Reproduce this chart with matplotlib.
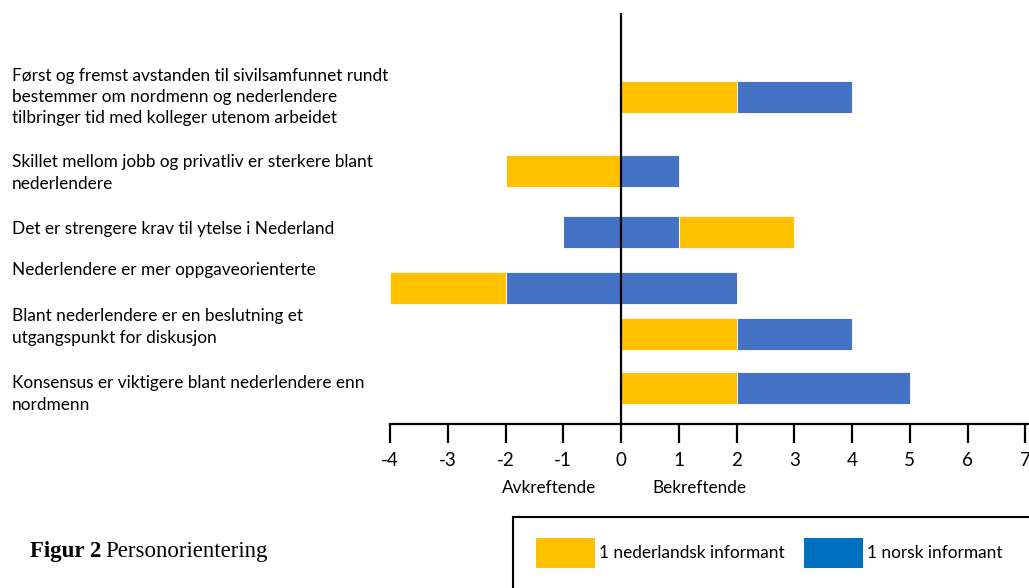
import matplotlib
matplotlib.use('Agg')
import matplotlib.pyplot as plt
from matplotlib.patches import Rectangle

# statements, top to bottom
categories = [
    "Først og fremst avstanden til sivilsamfunnet rundt\nbestemmer om nordmenn og nederlendere\ntilbringer tid med kolleger utenom arbeidet",
    "Skillet mellom jobb og privatliv er sterkere blant\nnederlendere",
    "Det er strengere krav til ytelse i Nederland",
    "Nederlendere er mer oppgaveorienterte",
    "Blant nederlendere er en beslutning et\nutgangspunkt for diskusjon",
    "Konsensus er viktigere blant nederlendere enn\nnordmenn",
]
# number of informants disconfirming (neg) / confirming (pos)
nl_neg = [0, 2, 0, 2, 0, 0]
no_neg = [0, 0, 1, 2, 0, 0]
nl_pos = [2, 0, 2, 0, 2, 2]
no_pos = [2, 1, 1, 2, 2, 3]
# on the confirming side, which group is drawn next to zero
pos_inner = ["nl", "nl", "no", "nl", "nl", "nl"]

ticks = list(range(-4, 8))
series_names = ["1 nederlandsk informant", "1 norsk informant"]

YELLOW = "#FFC000"
BLUE = "#4472C4"
BLUE_LEG = "#0070C0"

plt.rcParams['font.family'] = ['Lato', 'DejaVu Sans']
plt.rcParams['axes.unicode_minus'] = False

W, H = 1029, 588
fig = plt.figure(figsize=(W / 100., H / 100.), dpi=100)

def fx(x):
    return x / float(W)

def fy(y):
    return 1 - y / float(H)

# layout in pixels
row_y = [97, 171, 232, 288, 334, 388]
label_y = [97, 173, 229, 270, 327, 394]
bar_h = 32
unit = 57.75
x0_px = 390

ax = fig.add_axes([fx(x0_px), 0, 1 - fx(x0_px), 1])
ax.set_xlim(-4, -4 + (W - x0_px) / unit)
ax.set_ylim(H, 0)
ax.patch.set_visible(False)
for s in ["top", "right", "left"]:
    ax.spines[s].set_visible(False)
ax.spines["bottom"].set_position(("data", 424))
ax.spines["bottom"].set_linewidth(1.6)
ax.set_yticks([])
ax.set_xticks(ticks)
ax.set_xticklabels([str(t) for t in ticks])
ax.tick_params(axis="x", direction="out", length=14, width=1.6, pad=6,
               labelsize=13.5, colors="black")

ec = dict(edgecolor="white", linewidth=0.6)
for i, y in enumerate(row_y):
    # disconfirming side: norwegians inner, dutch outer
    ax.barh(y, -no_neg[i], left=0, height=bar_h, color=BLUE, **ec)
    ax.barh(y, -nl_neg[i], left=-no_neg[i], height=bar_h, color=YELLOW, **ec)
    # confirming side
    if pos_inner[i] == "nl":
        ax.barh(y, nl_pos[i], left=0, height=bar_h, color=YELLOW, **ec)
        ax.barh(y, no_pos[i], left=nl_pos[i], height=bar_h, color=BLUE, **ec)
    else:
        ax.barh(y, no_pos[i], left=0, height=bar_h, color=BLUE, **ec)
        ax.barh(y, nl_pos[i], left=no_pos[i], height=bar_h, color=YELLOW, **ec)

ax.vlines(0, 13, 424, color="black", lw=1.6, zorder=5)

ax.text(-1.25, 488, "Avkreftende", ha="center", va="center", fontsize=12.3)
ax.text(1.35, 488, "Bekreftende", ha="center", va="center", fontsize=12.3)

# statement labels
for lab, y in zip(categories, label_y):
    fig.text(fx(12), fy(y), lab, ha="left", va="center", fontsize=12.4,
             linespacing=1.4)

# caption
fig.text(fx(30), fy(552), "Figur 2", ha="left", va="center",
         fontsize=16.5, fontweight="bold", family=["Liberation Serif"])
fig.text(fx(105), fy(552), "Personorientering", ha="left", va="center",
         fontsize=16.5, family=["Liberation Serif"])

# legend box (runs off the page as in the original)
fig.add_artist(Rectangle((fx(513), fy(600)), fx(540), fy(517) - fy(600),
                         transform=fig.transFigure, facecolor="white",
                         edgecolor="black", lw=1.5))
leg_cols = [YELLOW, BLUE_LEG]
leg_x = [536, 804]
for name, c, lx in zip(series_names, leg_cols, leg_x):
    fig.add_artist(Rectangle((fx(lx), fy(568)), fx(59), fy(538) - fy(568),
                             transform=fig.transFigure, facecolor=c,
                             edgecolor="none"))
    fig.text(fx(lx + 63), fy(553), name, ha="left", va="center", fontsize=12.4)

plt.savefig("out.png", dpi=100)
